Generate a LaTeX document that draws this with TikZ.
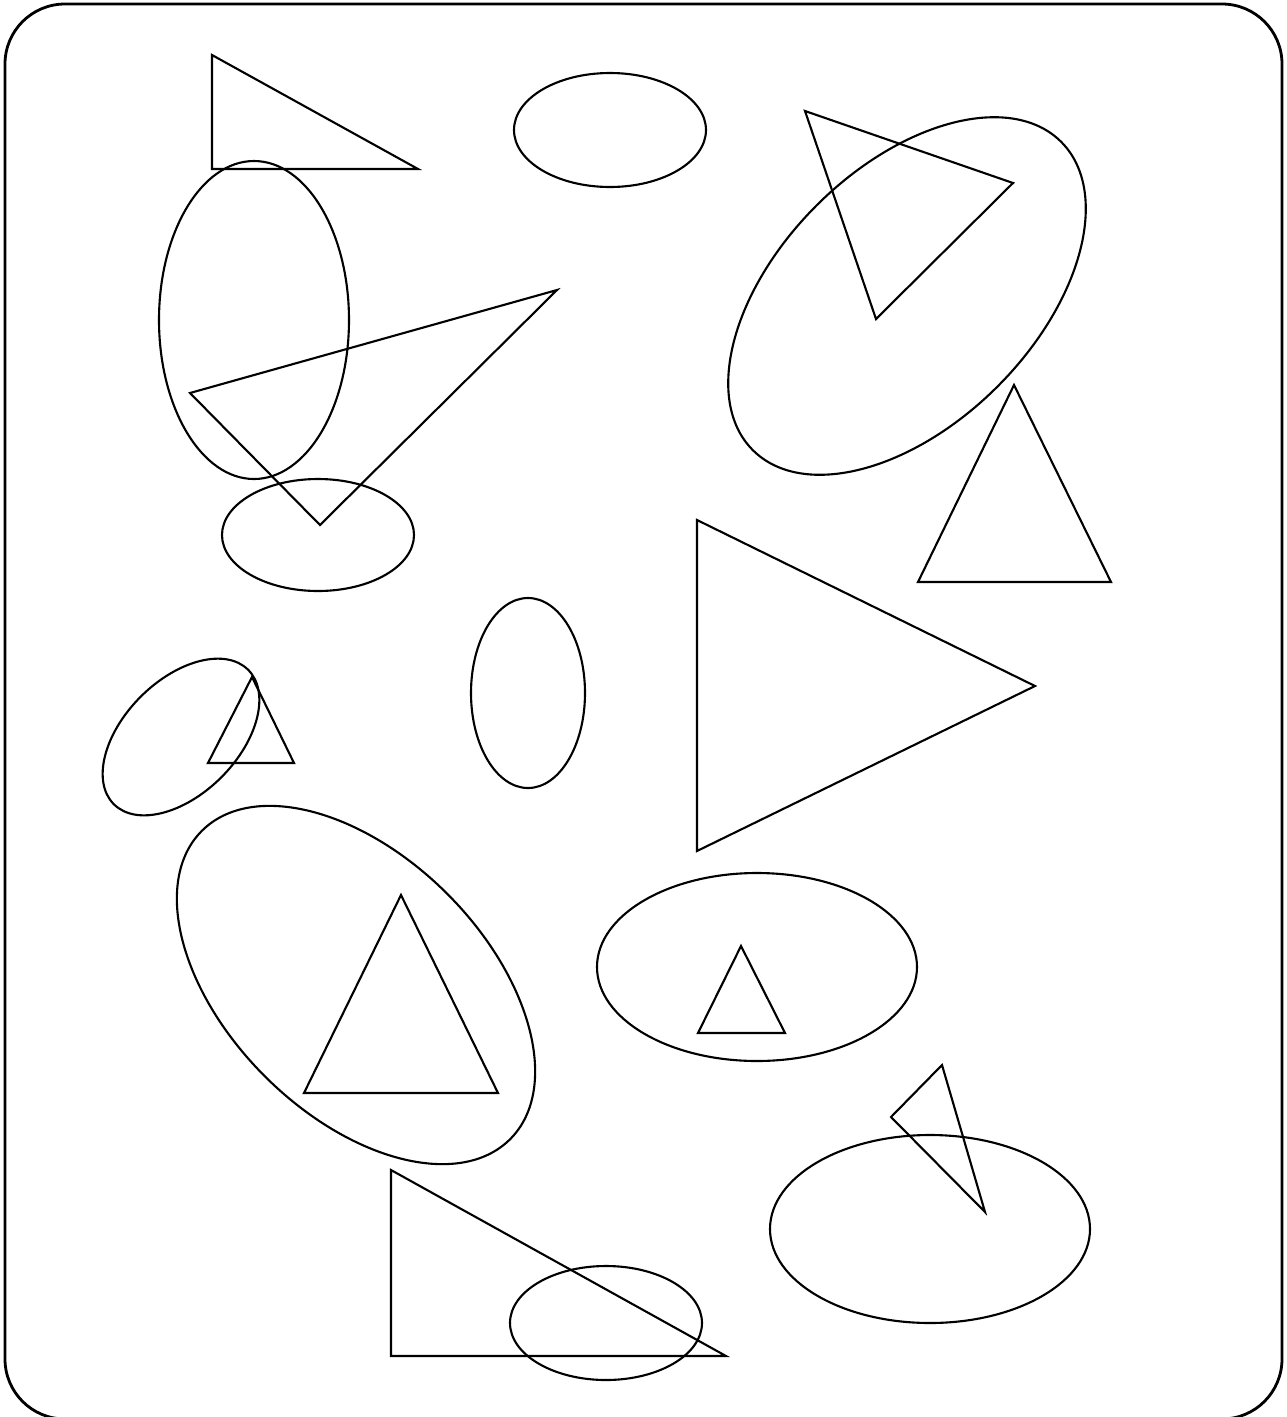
\documentclass[tikz,border=0pt]{standalone}
\usepackage{tikz}

\begin{document}
\begin{tikzpicture}[x=0.02cm,y=-0.02cm,
  fig/.style={line width=1.2pt},
  rim/.style={line width=1.6pt,rounded corners=1.2cm}]
\useasboundingbox (0,0) rectangle (1287,1417);
\draw[rim] (5,4) rectangle (1282,1419);
\foreach \ax/\ay/\bx/\by/\cx/\cy in {212/55/212/169/418/169, 805/111/1013/183/876/319,
  1014/385/918/582/1111/582, 190/393/557/290/320/525, 697/520/1035/686/697/851,
  252/677/208/763/294/763, 401/895/304/1093/498/1093, 741/946/698/1033/785/1033,
  942/1065/891/1117/985/1212, 391/1170/391/1356/726/1356}
  \draw[fig] (\ax,\ay)--(\bx,\by)--(\cx,\cy)--cycle;
\foreach \ex/\ey/\rx/\ry/\t in {610/130/96/57/0, 907/296/218/128/45, 254/320/95/159/0,
  318/535/96/56/0, 528/693/57/95/0, 181/737/95/57/45, 356/985/218/129/-45,
  757/967/160/94/0, 930/1229/160/94/0, 606/1323/96/57/0}
  \draw[fig,rotate around={\t:(\ex,\ey)}] (\ex,\ey) ellipse [x radius=\rx, y radius=\ry];
\end{tikzpicture}
\end{document}
